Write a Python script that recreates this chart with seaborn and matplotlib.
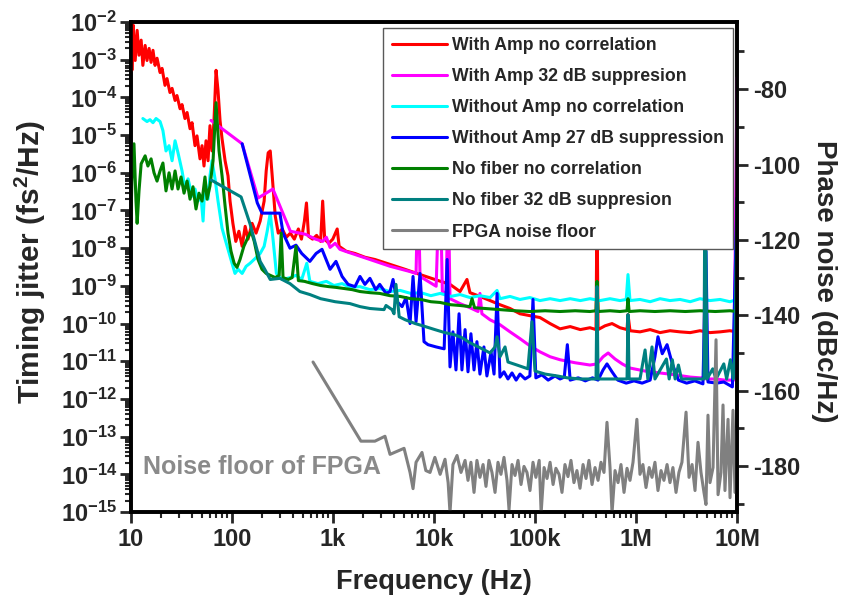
import pandas as pd
import seaborn as sns
import numpy as np
import matplotlib
matplotlib.use("Agg")
import matplotlib.pyplot as plt
from matplotlib.ticker import LogLocator, FuncFormatter, FixedLocator, NullFormatter

sns.set_theme(style="ticks")
plt.rcParams['font.family'] = ['Liberation Sans', 'DejaVu Sans']
plt.rcParams['font.weight'] = 'bold'
plt.rcParams['mathtext.fontset'] = 'custom'
plt.rcParams['mathtext.bf'] = 'Liberation Sans:bold'
plt.rcParams['mathtext.rm'] = 'Liberation Sans:bold'
plt.rcParams['mathtext.default'] = 'bf'
plt.rcParams['axes.unicode_minus'] = False

# (frequency Hz, phase noise dBc/Hz)
red = [(10, -60.4), (10.2, -75.0), (10.5, -63.0), (11.0, -72.4), (11.5, -64.4), (12.0, -71.0),
       (12.6, -67.0), (13.1, -73.7), (13.8, -68.4), (14.4, -72.4), (15.1, -69.2), (15.8, -72.9),
       (16.5, -69.7), (17.3, -73.7), (18.1, -71.8), (19.4, -75.6), (20.3, -74.5), (21.7, -79.0),
       (22.7, -77.2), (24.3, -80.9), (25.5, -79.8), (27.3, -83.0), (28.5, -81.7), (30.6, -85.2),
       (32.0, -84.1), (34.2, -87.8), (35.9, -86.2), (38.4, -90.5), (40.2, -88.9), (43.0, -95.0),
       (45.0, -92.4), (48.2, -98.5), (50.5, -95.0), (52.8, -100.4), (55.3, -93.7), (57.9, -99.0),
       (60.5, -89.7), (63.4, -96.4), (66.3, -88.3), (69.5, -75.0), (72.7, -80.4), (76.1, -88.3),
       (79.7, -93.2), (85.4, -99.0), (91.3, -103.0), (95.6, -109.7), (102, -115.6), (109, -120.4),
       (117, -117.7), (126, -121.7), (135, -116.4), (144, -119.8), (158, -115.6), (173, -118.2),
       (190, -115.0), (208, -109.7), (218, -101.7), (228, -96.9), (239, -96.4), (250, -103.0),
       (268, -113.7), (287, -118.2), (314, -117.1), (345, -119.3), (378, -118.2), (414, -119.8),
       (454, -117.1), (487, -119.8), (521, -115.0), (546, -110.2), (572, -119.0), (628, -119.8),
       (688, -118.8), (754, -120.4), (790, -109.7), (827, -119.8), (907, -120.9), (995, -119.8),
       (1100, -117.1), (1150, -121.7), (1350, -123.0), (1650, -123.6), (2070, -124.6), (2600, -125.2),
       (3670, -126.5), (5160, -127.8), (7300, -129.2), (10200, -130.5), (14400, -131.8),
       (18100, -133.7), (21200, -130.5), (22700, -134.0), (28500, -135.0), (35900, -136.1),
       (45000, -137.2), (56600, -138.2), (71000, -139.6), (89000, -140.1), (112000, -140.6),
       (141000, -142.2), (177000, -143.6), (223000, -143.0), (281000, -143.8), (350000, -143.3),
       (402000, -143.8), (411000, -109.7), (421000, -143.8), (493000, -142.8), (579000, -142.2),
       (694000, -143.3), (815000, -143.8), (833000, -139.8), (872000, -144.1), (1.095e6, -144.4),
       (1.38e6, -143.8), (1.73e6, -144.6), (2.17e6, -144.1), (2.73e6, -144.4), (3.44e6, -144.6),
       (4.3e6, -144.1), (5.4e6, -144.6), (6.8e6, -144.4), (8.5e6, -144.1), (1e7, -144.4)]

magenta = [(62, -88.3), (126, -94.5), (181, -108.9), (254, -106.5), (378, -117.7), (533, -118.5),
           (671, -119.8), (790, -120.4), (860, -119.3), (935, -122.0), (1050, -120.9), (1170, -122.5),
           (1320, -123.0), (2320, -125.2), (3670, -127.0), (5790, -128.4), (6640, -128.9),
           (6950, -104.4), (7270, -129.7), (10500, -132.3), (11000, -115.0), (11500, -104.4),
           (12100, -133.7), (13200, -134.2), (13800, -104.4), (14400, -135.6), (18100, -136.9),
           (22700, -138.0), (27300, -139.0), (28500, -134.2), (29800, -139.6), (35900, -141.2),
           (45000, -142.5), (56600, -144.4), (71000, -146.2), (89000, -148.1), (112000, -149.7),
           (141000, -151.0), (177000, -151.8), (250000, -152.6), (350000, -153.2), (411000, -152.9),
           (472000, -151.0), (530000, -150.0), (620000, -151.6), (730000, -152.9), (872000, -154.0),
           (1.23e6, -154.8), (1.73e6, -155.3), (2.44e6, -155.8), (3.44e6, -156.4), (4.3e6, -156.6),
           (4.71e6, -156.6), (4.82e6, -109.7), (4.93e6, -156.9), (6.1e6, -156.9), (7.6e6, -157.2),
           (9.3e6, -157.2), (1e7, -76.9)]

cyan = [(13.1, -87.8), (14.4, -88.6), (15.4, -88.1), (16.5, -88.9), (17.7, -87.8), (19.4, -88.6),
        (20.7, -91.0), (22.2, -96.4), (23.8, -95.0), (25.5, -99.0), (27.3, -93.7), (29.2, -96.9),
        (32.0, -101.7), (34.2, -106.2), (36.7, -103.8), (40.2, -108.4), (43.0, -106.5), (46.0, -109.7),
        (49.3, -108.4), (51.7, -115.0), (54.0, -104.4), (57.9, -109.2), (60.5, -103.0), (63.4, -99.0),
        (67.9, -103.8), (72.7, -109.7), (79.7, -116.9), (85.4, -119.8), (91.3, -122.5), (100, -126.2),
        (107, -128.9), (115, -127.8), (126, -128.9), (138, -127.0), (151, -126.2), (170, -124.9),
        (190, -123.6), (208, -121.7), (223, -117.7), (239, -112.9), (256, -120.4), (275, -128.9),
        (314, -130.5), (378, -130.0), (430, -129.4), (490, -130.5), (550, -126.2), (590, -131.0),
        (710, -131.6), (860, -131.0), (1020, -132.1), (1230, -131.6), (1470, -132.6), (1850, -132.4),
        (2320, -133.2), (2900, -132.9), (3670, -133.7), (4620, -133.4), (5890, -134.2), (7400, -134.0),
        (9300, -134.8), (11500, -134.2), (14600, -135.0), (18100, -134.5), (22700, -135.3),
        (28500, -134.8), (35900, -135.3), (42100, -133.4), (45000, -135.6), (56600, -135.0),
        (71000, -135.8), (89000, -135.3), (112000, -136.1), (141000, -135.6), (177000, -136.1),
        (223000, -135.6), (281000, -136.1), (350000, -135.6), (440000, -136.1), (553000, -135.6),
        (694000, -136.1), (800000, -135.8), (833000, -129.2), (872000, -136.1), (1.095e6, -135.8),
        (1.38e6, -136.4), (1.73e6, -135.6), (2.17e6, -136.1), (2.73e6, -135.8), (3.44e6, -136.4),
        (4.3e6, -135.6), (5.4e6, -136.1), (6.8e6, -135.8), (8.5e6, -136.4), (1e7, -135.8)]

blue = [(126, -94.5), (178, -110.2), (198, -112.9), (298, -112.9), (320, -118.2), (375, -122.2),
        (430, -121.4), (490, -123.6), (590, -125.7), (680, -123.6), (778, -122.5), (854, -125.2),
        (935, -127.8), (1070, -125.7), (1230, -129.7), (1410, -131.8), (1650, -132.4), (1850, -129.7),
        (2070, -131.8), (2320, -130.2), (2650, -133.2), (2900, -131.8), (3350, -134.2), (3670, -133.7),
        (3930, -130.5), (4300, -136.4), (4830, -137.7), (5290, -135.3), (5790, -142.2), (6200, -129.7),
        (6640, -141.7), (7270, -128.9), (7960, -147.0), (8720, -147.8), (10500, -148.4),
        (12600, -148.9), (13500, -125.2), (14400, -153.7), (15400, -144.4), (16500, -154.5),
        (17700, -139.6), (18900, -154.5), (20300, -143.8), (21700, -155.0), (23200, -144.9),
        (24900, -154.5), (26600, -147.0), (28500, -155.6), (31200, -148.4), (33400, -156.1),
        (36700, -149.7), (39300, -155.6), (42100, -134.2), (45000, -156.4), (49300, -155.0),
        (54000, -156.9), (59200, -155.3), (65000, -157.2), (71000, -155.6), (79700, -156.9),
        (89000, -156.1), (95500, -135.8), (102000, -156.6), (117000, -155.8), (135000, -157.2),
        (158000, -156.1), (177000, -156.9), (195000, -156.4), (209000, -147.8), (223000, -157.2),
        (268000, -156.6), (315000, -157.4), (371000, -156.6), (421000, -157.2), (472000, -154.5),
        (516000, -152.9), (579000, -155.0), (660000, -157.2), (800000, -158.0), (955000, -157.4),
        (1.15e6, -158.0), (1.38e6, -157.2), (1.54e6, -151.0), (1.65e6, -145.7), (1.82e6, -150.2),
        (2.03e6, -147.8), (2.29e6, -152.9), (2.63e6, -157.2), (3.17e6, -158.0), (3.82e6, -157.4),
        (4.6e6, -158.2), (4.93e6, -123.0), (5.16e6, -157.7), (6.3e6, -158.0), (7.4e6, -157.7),
        (9.0e6, -159.0), (1e7, -108.9)]

green = [(10, -113.7), (10.2, -104.4), (10.7, -94.5), (11.2, -109.7), (11.5, -115.6), (12.0, -107.0),
         (12.6, -99.8), (13.8, -97.7), (14.7, -100.4), (15.8, -98.5), (16.9, -102.2), (18.1, -104.4),
         (19.4, -101.7), (20.7, -99.6), (22.2, -107.0), (23.8, -102.2), (25.5, -106.5), (27.3, -101.7),
         (29.2, -106.5), (31.3, -103.3), (33.5, -107.6), (35.9, -104.4), (38.4, -109.2), (41.1, -105.9),
         (44.0, -111.8), (47.1, -107.6), (50.5, -109.7), (54.0, -103.3), (56.6, -109.2), (60.5, -105.7),
         (64.9, -99.0), (69.5, -83.6), (74.4, -96.4), (79.7, -103.0), (85.4, -111.0), (91.3, -118.2),
         (97.7, -123.0), (105, -126.2), (112, -127.3), (120, -125.2), (131, -121.7), (144, -119.3),
         (155, -117.7), (166, -120.4), (181, -125.2), (198, -127.8), (218, -128.9), (239, -129.4),
         (268, -130.0), (293, -129.4), (307, -118.2), (320, -130.0), (360, -130.5), (394, -130.0),
         (430, -121.7), (454, -130.8), (521, -131.0), (628, -131.6), (754, -132.1), (907, -132.4),
         (1070, -132.6), (1290, -132.9), (1550, -133.2), (1850, -133.7), (2320, -134.0), (2900, -134.2),
         (3670, -134.8), (4620, -135.0), (5890, -135.6), (7400, -135.8), (9300, -136.4), (11500, -136.6),
         (14600, -137.2), (18100, -137.4), (22700, -137.7), (23800, -135.6), (25200, -138.0),
         (32000, -138.2), (45000, -138.5), (63600, -138.8), (89000, -139.0), (126000, -138.8),
         (177000, -139.0), (250000, -138.8), (350000, -139.0), (402000, -138.8), (411000, -131.0),
         (421000, -139.0), (553000, -138.8), (694000, -139.0), (815000, -138.8), (833000, -135.6),
         (855000, -139.0), (1.095e6, -138.8), (1.54e6, -139.0), (2.17e6, -138.8), (3.08e6, -139.0),
         (4.3e6, -138.8), (6.1e6, -139.0), (8.5e6, -138.8), (1e7, -139.0)]

teal = [(62, -104.1), (123, -108.6), (151, -115.8), (190, -125.7), (211, -127.8), (239, -130.5),
        (298, -130.2), (375, -131.6), (470, -133.7), (590, -134.5), (754, -135.6), (1050, -136.4),
        (1470, -136.9), (1850, -137.7), (2320, -138.2), (3200, -138.5), (3350, -137.4), (3840, -138.5),
        (4020, -139.6), (4200, -131.8), (4520, -140.4), (5200, -141.2), (6520, -142.2), (8200, -143.0),
        (10200, -143.8), (12800, -144.6), (16100, -145.2), (19100, -146.0), (22700, -147.3),
        (28500, -148.6), (35900, -150.0), (40200, -148.4), (42100, -145.7), (45000, -151.0),
        (50500, -148.4), (54000, -152.4), (66300, -153.2), (85000, -154.2), (93300, -141.7),
        (100000, -154.8), (126000, -155.6), (166000, -156.1), (209000, -156.6), (281000, -156.9),
        (350000, -156.9), (402000, -156.9), (411000, -132.4), (421000, -156.9), (553000, -156.9),
        (694000, -156.9), (815000, -156.9), (833000, -139.8), (855000, -156.9), (1.095e6, -156.9),
        (1.23e6, -149.2), (1.31e6, -156.9), (1.44e6, -148.4), (1.54e6, -156.9), (2.0e6, -151.6),
        (2.13e6, -156.9), (2.29e6, -151.8), (2.44e6, -156.9), (2.63e6, -153.2), (2.82e6, -156.9),
        (3.9e6, -156.9), (4.71e6, -156.9), (4.82e6, -96.4), (5.05e6, -156.9), (5.75e6, -154.2),
        (6.2e6, -156.9), (7.4e6, -152.9), (7.9e6, -156.9), (8.6e6, -151.8), (9.2e6, -156.9),
        (9.5e6, -150.5), (1e7, -108.9)]

gray = [(634, -152.4), (1890, -173.4), (2600, -173.4), (3270, -172.1), (3670, -176.9), (5050, -175.3),
        (5790, -181.7), (6200, -186.0), (6640, -179.0), (7600, -176.4), (8300, -181.2), (9130, -181.7),
        (10200, -177.7), (11500, -182.2), (12850, -178.2), (13800, -184.4), (14400, -192.4),
        (15400, -179.6), (16900, -177.2), (18500, -181.7), (20300, -178.5), (21700, -183.8),
        (23200, -179.0), (24900, -187.0), (26600, -178.5), (28500, -183.0), (30600, -179.6),
        (32700, -185.4), (35000, -178.5), (37500, -181.7), (40200, -187.0), (43000, -179.0),
        (46000, -182.2), (49300, -177.7), (52800, -183.8), (55300, -191.6), (59200, -179.6),
        (63400, -182.5), (67900, -178.5), (72700, -184.9), (77800, -180.1), (83300, -181.7),
        (89200, -186.5), (95500, -179.0), (102000, -183.0), (110000, -178.5), (115000, -192.4),
        (123000, -180.4), (131500, -183.3), (141000, -179.0), (151000, -184.9), (161000, -180.6),
        (173000, -182.2), (185000, -187.0), (198000, -179.6), (212000, -182.8), (227000, -178.5),
        (243000, -184.4), (260000, -181.2), (279000, -185.9), (299000, -179.6), (320000, -183.3),
        (342000, -178.5), (367000, -184.9), (393000, -180.4), (421000, -183.8), (450000, -179.0),
        (482000, -181.7), (516000, -168.4), (553000, -180.4), (579000, -192.4), (620000, -181.2),
        (664000, -184.4), (710000, -179.6), (761000, -187.0), (815000, -180.6), (872000, -183.8),
        (934000, -179.0), (1.02e6, -167.6), (1.095e6, -182.2), (1.17e6, -179.6), (1.256e6, -185.7),
        (1.35e6, -180.4), (1.44e6, -183.0), (1.54e6, -179.0), (1.65e6, -186.5), (1.77e6, -181.2),
        (1.89e6, -183.8), (2.03e6, -179.6), (2.17e6, -184.4), (2.32e6, -180.4), (2.49e6, -187.0),
        (2.66e6, -181.7), (2.85e6, -179.0), (3.13e6, -165.7), (3.35e6, -183.0), (3.59e6, -179.6),
        (3.84e6, -186.5), (4.11e6, -173.7), (4.4e6, -181.7), (4.71e6, -187.0), (4.93e6, -190.2),
        (5.16e6, -166.5), (5.4e6, -184.4), (5.79e6, -180.4), (6.2e6, -146.5), (6.49e6, -187.6),
        (6.94e6, -181.7), (7.27e6, -163.8), (7.6e6, -186.5), (8.15e6, -167.6), (8.53e6, -188.4),
        (9.13e6, -165.2), (9.55e6, -187.0), (1e7, -170.0)]

series_names = ['With Amp no correlation', 'With Amp 32 dB suppresion', 'Without Amp no correlation',
                'Without Amp 27 dB suppression', 'No fiber no correlation', 'No fiber 32 dB suppresion',
                'FPGA noise floor']
series_data = [red, magenta, cyan, blue, green, teal, gray]
colors = ['#FF0000', '#FF00FF', '#00FFFF', '#0000FF', '#008000', '#008080', '#808080']

x_ticks = [10, 100, 1e3, 1e4, 1e5, 1e6, 1e7]
x_labels = ['10', '100', '1k', '10k', '100k', '1M', '10M']
right_ticks = [-180, -160, -140, -120, -100, -80]

# build one long table for seaborn
frames = []
for name, pts in zip(series_names, series_data):
    d = pd.DataFrame(pts, columns=['freq', 'pn'])
    d['series'] = name
    frames.append(d)
df = pd.concat(frames, ignore_index=True)

fig = plt.figure(figsize=(8.42, 5.99), dpi=100)
ax = fig.add_axes([0.1556, 0.1452, 0.7197, 0.8180])
ax2 = ax.twinx()

ax.set_xscale('log')
ax.set_yscale('log')
ax.set_xlim(10, 1e7)
ax.set_ylim(1e-15, 1e-2)
ax2.set_ylim(-192.2, -62.2)

sns.lineplot(data=df, x='freq', y='pn', hue='series', hue_order=series_names,
             palette=colors, estimator=None, sort=False, linewidth=2.2, ax=ax2)

# left axis (timing jitter)
ax.yaxis.set_major_locator(LogLocator(base=10, numticks=30))
ax.yaxis.set_minor_locator(LogLocator(base=10, subs=np.arange(2, 10), numticks=30))
ax.yaxis.set_major_formatter(FuncFormatter(lambda v, p: r'$10^{%d}$' % int(round(np.log10(v)))))
ax.yaxis.set_minor_formatter(NullFormatter())
ax.set_xticks(x_ticks)
ax.set_xticklabels(x_labels)
ax.xaxis.set_minor_locator(LogLocator(base=10, subs=np.arange(2, 10), numticks=30))
ax.xaxis.set_minor_formatter(NullFormatter())

ax.tick_params(which='major', direction='out', length=8, width=2, labelsize=17, top=False, right=False)
ax.tick_params(which='minor', direction='out', length=4.5, width=1.5, top=False, right=False)
ax.tick_params(axis='y', pad=2)

# right axis (phase noise)
ax2.set_yticks(right_ticks)
ax2.set_yticklabels([str(t) for t in right_ticks])
ax2.yaxis.set_minor_locator(FixedLocator([-190, -170, -150, -130, -110, -90, -70]))
ax2.tick_params(which='major', direction='out', length=8, width=2, labelsize=17)
ax2.tick_params(which='minor', direction='out', length=5, width=2)

for a in (ax, ax2):
    for s in a.spines.values():
        s.set_linewidth(2.6)
        s.set_color('black')

ax.set_xlabel('Frequency (Hz)', fontsize=19.5, fontweight='bold', labelpad=13)
ax.set_ylabel(r'Timing jitter (fs$^2$/Hz)', fontsize=21.5, fontweight='bold', labelpad=9)
ax2.set_ylabel('Phase noise (dBc/Hz)', fontsize=20, fontweight='bold', rotation=270,
               va='bottom', labelpad=8)
ax.yaxis.label.set_y(0.51)
ax2.yaxis.label.set_y(0.47)

ax2.text(13.1, -180.3, 'Noise floor of FPGA', color='#8a8a8a', fontsize=18,
         fontweight='bold', va='center', ha='left')

handles, labels = ax2.get_legend_handles_labels()
leg = ax2.legend(handles, labels, loc='upper right', bbox_to_anchor=(0.9934, 0.9878),
                 prop={'weight': 'bold', 'size': 12.7}, frameon=True, fancybox=False,
                 edgecolor='0.35', framealpha=1, borderaxespad=0, handlelength=3.1,
                 handletextpad=0.3, labelspacing=0.8, borderpad=0.5)
leg.get_frame().set_linewidth(1.0)

fig.savefig('out.png', dpi=100)
